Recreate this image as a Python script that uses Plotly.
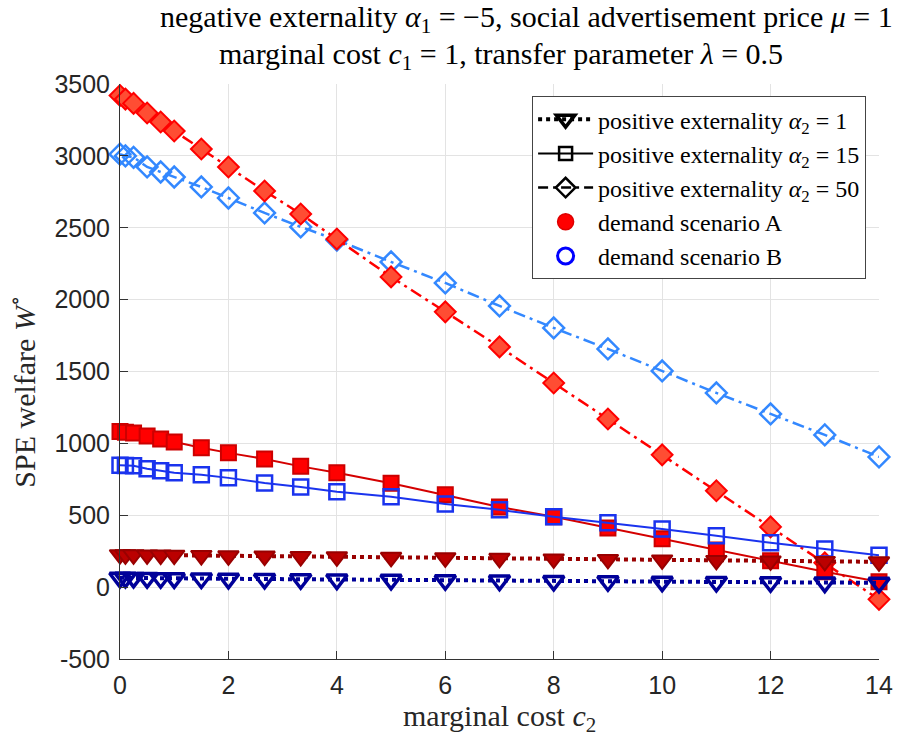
import plotly.graph_objects as go

# marginal cost c2 sample points
c2 = [0, 0.1, 0.25, 0.5, 0.75, 1, 1.5, 2, 2.667, 3.333, 4,
      5, 6, 7, 8, 9, 10, 11, 12, 13, 14]

# SPE welfare, demand scenario A
w_a_alpha1 = [226, 225, 225, 224, 223, 222, 220, 218, 216, 213, 211,
              207, 204, 200, 196, 193, 189, 186, 182, 179, 176]
w_a_alpha15 = [1082, 1077, 1072, 1052, 1031, 1010, 969, 934, 892, 840, 795,
               722, 642, 558, 489, 412, 336, 259, 183, 107, 37]
w_a_alpha50 = [3420, 3395, 3365, 3298, 3236, 3173, 3048, 2923, 2756, 2596, 2422,
               2158, 1915, 1671, 1420, 1170, 920, 670, 419, 169, -85]

# SPE welfare, demand scenario B
w_b_alpha1 = [65, 65, 64, 63, 62, 61, 60, 58, 57, 55, 53,
              51, 48, 46, 43, 41, 38, 36, 34, 32, 30]
w_b_alpha15 = [848, 846, 844, 823, 809, 795, 781, 760, 725, 697, 663,
               628, 579, 538, 489, 447, 405, 357, 308, 266, 222]
w_b_alpha50 = [3012, 3000, 2990, 2923, 2888, 2853, 2784, 2707, 2603, 2506, 2415,
               2262, 2116, 1956, 1803, 1657, 1504, 1351, 1205, 1059, 906]

x_ticks = [0, 2, 4, 6, 8, 10, 12, 14]
y_ticks = [-500, 0, 500, 1000, 1500, 2000, 2500, 3000, 3500]
y_ticktext = ["-500", "0", "500", "1000", "1500", "2000", "2500", "3000", "3500"]

legend_labels = [
    "positive externality <i>α</i><sub>2</sub> = 1",
    "positive externality <i>α</i><sub>2</sub> = 15",
    "positive externality <i>α</i><sub>2</sub> = 50",
    "demand scenario A",
    "demand scenario B",
]

SERIF = "Liberation Serif, DejaVu Serif, serif"
SANS = "Liberation Sans, Arial, sans-serif"
DASHDOT = "12px,5px,3px,5px"

fig = go.Figure()

# alpha2 = 50 (dash-dot, diamonds)
fig.add_trace(go.Scatter(
    x=c2, y=w_b_alpha50, mode="lines+markers", showlegend=False, cliponaxis=False,
    line=dict(color="#3388ff", width=2.5, dash=DASHDOT),
    marker=dict(symbol="diamond-open", size=16, color="#3388ff",
                line=dict(width=2.5, color="#3388ff"))))
fig.add_trace(go.Scatter(
    x=c2, y=w_a_alpha50, mode="lines+markers", showlegend=False, cliponaxis=False,
    line=dict(color="#ff0000", width=2.5, dash=DASHDOT),
    marker=dict(symbol="diamond", size=16, color="#ff4d33",
                line=dict(width=2, color="#ff0000"))))

# alpha2 = 15 (solid, squares)
fig.add_trace(go.Scatter(
    x=c2, y=w_a_alpha15, mode="lines+markers", showlegend=False, cliponaxis=False,
    line=dict(color="#d40000", width=2),
    marker=dict(symbol="square", size=15, color="#ff0000",
                line=dict(width=2, color="#cc0000"))))
fig.add_trace(go.Scatter(
    x=c2, y=w_b_alpha15, mode="lines+markers", showlegend=False, cliponaxis=False,
    line=dict(color="#1a33ee", width=2),
    marker=dict(symbol="square-open", size=15, color="#1a33ee",
                line=dict(width=2.5, color="#1a33ee"))))

# alpha2 = 1 (dotted, triangles)
fig.add_trace(go.Scatter(
    x=c2, y=w_a_alpha1, mode="lines+markers", showlegend=False, cliponaxis=False,
    line=dict(color="#990000", width=4, dash="dot"),
    marker=dict(symbol="triangle-down", size=18, color="#bb0000",
                line=dict(width=2, color="#990000"))))
fig.add_trace(go.Scatter(
    x=c2, y=w_b_alpha1, mode="lines+markers", showlegend=False, cliponaxis=False,
    line=dict(color="#000099", width=4, dash="dot"),
    marker=dict(symbol="triangle-down-open", size=18, color="#000099",
                line=dict(width=3.5, color="#000099"))))

# legend-only entries
fig.add_trace(go.Scatter(
    x=[None], y=[None], mode="lines+markers", name=legend_labels[0],
    line=dict(color="black", width=4, dash="dot"),
    marker=dict(symbol="triangle-down-open", size=18, color="black",
                line=dict(width=3.5, color="black"))))
fig.add_trace(go.Scatter(
    x=[None], y=[None], mode="lines+markers", name=legend_labels[1],
    line=dict(color="black", width=2),
    marker=dict(symbol="square-open", size=13, color="black",
                line=dict(width=2.5, color="black"))))
fig.add_trace(go.Scatter(
    x=[None], y=[None], mode="lines+markers", name=legend_labels[2],
    line=dict(color="black", width=2.5, dash="10px,5px,3px,5px"),
    marker=dict(symbol="diamond-open", size=15, color="black",
                line=dict(width=2.5, color="black"))))
fig.add_trace(go.Scatter(
    x=[None], y=[None], mode="markers", name=legend_labels[3],
    marker=dict(symbol="circle", size=16, color="#ff0000",
                line=dict(width=1.5, color="#dd0000"))))
fig.add_trace(go.Scatter(
    x=[None], y=[None], mode="markers", name=legend_labels[4],
    marker=dict(symbol="circle-open", size=16, color="#0000ff",
                line=dict(width=3, color="#0000ff"))))

axis_common = dict(
    showgrid=True, gridcolor="#e3e3e3", gridwidth=1,
    zeroline=False, showline=True, linecolor="#333333", linewidth=1,
    ticks="inside", ticklen=8, tickcolor="#333333", tickwidth=1,
    tickfont=dict(family=SANS, size=25, color="#262626"),
    mirror=False,
)

fig.update_layout(
    width=921, height=736,
    margin=dict(l=120, r=42, t=84, b=77),
    paper_bgcolor="white", plot_bgcolor="white",
    showlegend=True,
    legend=dict(
        x=0.983, y=0.979, xanchor="right", yanchor="top",
        bgcolor="white", bordercolor="#444444", borderwidth=1,
        font=dict(family=SERIF, size=24, color="black"),
        itemwidth=55, tracegroupgap=0,
    ),
    xaxis=dict(range=[0, 14], tickvals=x_ticks, ticklabelstandoff=4,
               **axis_common),
    yaxis=dict(range=[-500, 3500], tickvals=y_ticks, ticktext=y_ticktext,
               ticklabelstandoff=4, **axis_common),
    annotations=[
        dict(text="negative externality <i>α</i><sub>1</sub> = −5, social advertisement price <i>μ</i> = 1",
             xref="paper", yref="paper", x=0.536, y=1.0, yshift=65,
             xanchor="center", yanchor="middle", showarrow=False,
             font=dict(family=SERIF, size=30, color="black")),
        dict(text="marginal cost <i>c</i><sub>1</sub> = 1, transfer parameter <i>λ</i> = 0.5",
             xref="paper", yref="paper", x=0.502, y=1.0, yshift=28,
             xanchor="center", yanchor="middle", showarrow=False,
             font=dict(family=SERIF, size=30, color="black")),
        dict(text="marginal cost <i>c</i><sub>2</sub>",
             xref="paper", yref="paper", x=0.5, y=-0.1026,
             xanchor="center", yanchor="middle", showarrow=False,
             font=dict(family=SERIF, size=30, color="#262626")),
        dict(text="SPE welfare <i>W</i><sup>∘</sup>",
             xref="paper", yref="paper", x=-0.129, y=0.465, textangle=-90,
             xanchor="center", yanchor="middle", showarrow=False,
             font=dict(family=SERIF, size=30, color="#262626")),
    ],
)

fig.write_html("out.html")
